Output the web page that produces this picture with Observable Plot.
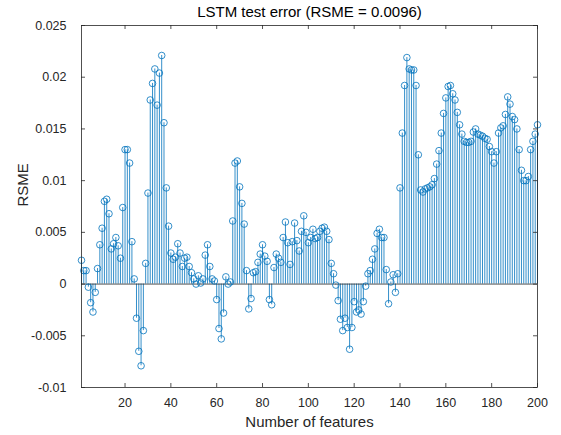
<!DOCTYPE html>
<html>
<head>
<meta charset="utf-8">
<script src="https://cdn.jsdelivr.net/npm/d3@7"></script>
<script src="https://cdn.jsdelivr.net/npm/@observablehq/plot@0.6"></script>
<style>
  html, body { margin: 0; padding: 0; background: #fff; }
  #chart { width: 561px; height: 435px; }
</style>
</head>
<body>
<div id="chart"></div>
<script>
const chartTitle = "LSTM test error (RSME = 0.0096)";
const xLabel = "Number of features";
const yLabel = "RSME";

const features = d3.range(1, 201);
const rsme = [
  0.0023, 0.0013, 0.0013, -0.0003, -0.0018, -0.0027, -0.0008, 0.0015, 0.0038, 0.0054,
  0.0080, 0.0082, 0.0068, 0.0034, 0.0039, 0.0045, 0.0037, 0.0025, 0.0074, 0.0130,
  0.0130, 0.0117, 0.0041, 0.0005, -0.0033, -0.0065, -0.0079, -0.0045, 0.0020, 0.0088,
  0.0178, 0.0194, 0.0208, 0.0173, 0.0204, 0.0221, 0.0156, 0.0093, 0.0056, 0.0030,
  0.0024, 0.0026, 0.0039, 0.0030, 0.0017, 0.0025, 0.0026, 0.0017, 0.0011, 0.0005,
  0.0000, 0.0008, 0.0001, 0.0005, 0.0028, 0.0038, 0.0017, 0.0005, 0.0003, -0.0015,
  -0.0043, -0.0053, -0.0028, 0.0007, 0.0000, 0.0002, 0.0061, 0.0117, 0.0119, 0.0094,
  0.0078, 0.0058, 0.0013, -0.0024, -0.0014, 0.0011, 0.0012, 0.0021, 0.0029, 0.0038,
  0.0027, 0.0022, -0.0015, -0.0020, 0.0016, 0.0029, 0.0025, 0.0021, 0.0045, 0.0060,
  0.0040, 0.0019, 0.0041, 0.0059, 0.0042, 0.0032, 0.0051, 0.0066, 0.0050, 0.0040,
  0.0045, 0.0053, 0.0044, 0.0045, 0.0051, 0.0054, 0.0055, 0.0051, 0.0043, 0.0020,
  0.0010, -0.0001, -0.0016, -0.0034, -0.0045, -0.0033, -0.0042, -0.0063, -0.0042, -0.0017,
  -0.0027, -0.0025, -0.0029, -0.0017, -0.0002, 0.0010, 0.0013, 0.0024, 0.0034, 0.0049,
  0.0053, 0.0045, 0.0045, 0.0014, -0.0019, 0.0002, 0.0009, -0.0008, 0.0010, 0.0093,
  0.0146, 0.0192, 0.0219, 0.0208, 0.0207, 0.0207, 0.0192, 0.0125, 0.0091, 0.0089,
  0.0092, 0.0093, 0.0094, 0.0096, 0.0102, 0.0116, 0.0129, 0.0146, 0.0165, 0.0180,
  0.0191, 0.0192, 0.0184, 0.0178, 0.0166, 0.0154, 0.0145, 0.0138, 0.0137, 0.0137,
  0.0138, 0.0147, 0.0150, 0.0145, 0.0144, 0.0143, 0.0141, 0.0140, 0.0133, 0.0128,
  0.0117, 0.0128, 0.0146, 0.0151, 0.0153, 0.0164, 0.0181, 0.0174, 0.0162, 0.0159,
  0.0150, 0.0130, 0.0110, 0.0100, 0.0100, 0.0104, 0.0130, 0.0138, 0.0145, 0.0154
];

const xTicks = [20, 40, 60, 80, 100, 120, 140, 160, 180, 200];
const yTicks = [-0.01, -0.005, 0, 0.005, 0.01, 0.015, 0.02, 0.025];
const yTickLabels = ["-0.01", "-0.005", "0", "0.005", "0.01", "0.015", "0.02", "0.025"];

const data = features.map((f, i) => ({feature: f, value: rsme[i]}));

const W = 561, H = 435;
const mL = 81, mR = 24, mT = 25, mB = 48;
const innerW = W - mL - mR, innerH = H - mT - mB;
const tickLen = 4;
const stemColor = "#0072BD";
const axisColor = "#262626";
const font = "'Liberation Sans', Arial, Helvetica, sans-serif";

const chart = Plot.plot({
  width: W,
  height: H,
  marginLeft: mL,
  marginRight: mR,
  marginTop: mT,
  marginBottom: mB,
  style: {fontFamily: font, background: "#fff", color: axisColor},
  x: {domain: [1, 200], axis: null},
  y: {domain: [-0.01, 0.025], axis: null},
  marks: [
    Plot.ruleX(data, {x: "feature", y1: 0, y2: "value", stroke: stemColor, strokeWidth: 0.8}),
    Plot.ruleY([0], {stroke: axisColor, strokeWidth: 0.8}),
    Plot.dot(data, {x: "feature", y: "value", r: 3.3, stroke: stemColor, fill: "none", strokeWidth: 0.8}),
    Plot.frame({stroke: axisColor, strokeWidth: 0.8}),
    // inward ticks on all four sides
    Plot.ruleX(xTicks, {x: d => d, insetTop: innerH - tickLen, stroke: axisColor, strokeWidth: 0.8}),
    Plot.ruleX(xTicks, {x: d => d, insetBottom: innerH - tickLen, stroke: axisColor, strokeWidth: 0.8}),
    Plot.ruleY(yTicks, {y: d => d, insetRight: innerW - tickLen, stroke: axisColor, strokeWidth: 0.8}),
    Plot.ruleY(yTicks, {y: d => d, insetLeft: innerW - tickLen, stroke: axisColor, strokeWidth: 0.8}),
    Plot.axisX(xTicks, {anchor: "bottom", tickSize: 0, tickPadding: 10.5, fontSize: 12.5, color: axisColor, label: null}),
    Plot.axisY(yTicks, {anchor: "left", tickSize: 0, tickPadding: 15, fontSize: 12.5, color: axisColor, label: null,
      tickFormat: d => yTickLabels[yTicks.indexOf(d)]}),
    Plot.text([chartTitle], {text: d => d, frameAnchor: "top", dy: -9, fontSize: 15, fill: "#000", lineAnchor: "bottom"}),
    Plot.text([xLabel], {text: d => d, frameAnchor: "bottom", dy: 39, fontSize: 15, fill: axisColor, lineAnchor: "bottom"}),
    Plot.text([yLabel], {text: d => d, frameAnchor: "left", dx: -58, rotate: -90, fontSize: 15, fill: axisColor})
  ]
});
document.getElementById("chart").appendChild(chart);
</script>
</body>
</html>
